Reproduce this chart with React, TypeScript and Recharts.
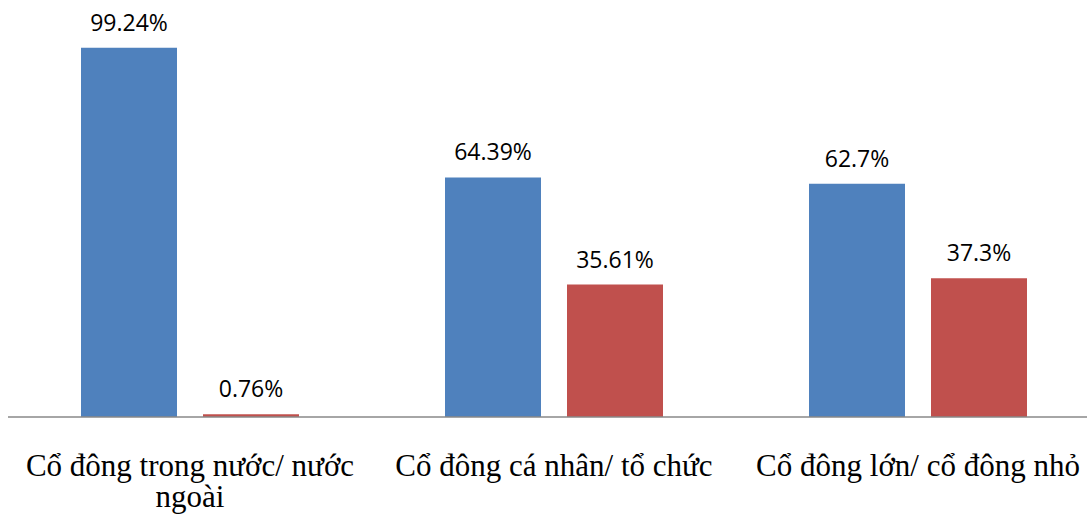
import { BarChart, Bar, XAxis, YAxis, LabelList } from 'recharts'

const categories = ['Cổ đông trong nước/ nước ngoài', 'Cổ đông cá nhân/ tổ chức', 'Cổ đông lớn/ cổ đông nhỏ']
const firstGroup = [99.24, 64.39, 62.7]
const secondGroup = [0.76, 35.61, 37.3]
const tickLines = [['Cổ đông trong nước/ nước', 'ngoài'], ['Cổ đông cá nhân/ tổ chức'], ['Cổ đông lớn/ cổ đông nhỏ']]

const data = categories.map((name, i) => ({
  name,
  first: firstGroup[i],
  second: secondGroup[i],
}))

function CategoryTick(props: any) {
  const { x, index } = props
  const lines = tickLines[index] || []
  return (
    <g>
      {lines.map((l, i) => (
        <text
          key={i}
          x={x}
          y={476 + i * 31}
          textAnchor="middle"
          fontFamily="'Liberation Serif', 'Times New Roman', serif"
          fontSize={31}
          fill="#000"
        >
          {l}
        </text>
      ))}
    </g>
  )
}

function ValueLabel(props: any) {
  const { x, y, width, value } = props
  return (
    <text
      x={x + width / 2}
      y={y - 17}
      textAnchor="middle"
      fontFamily="'Open Sans', sans-serif"
      fontSize={23}
      fill="#000"
    >
      {value}%
    </text>
  )
}

export default function App() {
  return (
    <div style={{ position: 'absolute', left: 0, top: 0, width: 1087, height: 518, overflow: 'hidden', background: '#fff' }}>
      <BarChart
        width={1100}
        height={518}
        data={data}
        margin={{ top: 45, right: 0, bottom: 0, left: 8 }}
        barCategoryGap={73}
        barGap={26}
      >
        <YAxis hide domain={[0, 100]} />
        <XAxis
          dataKey="name"
          height={101}
          tickLine={false}
          stroke="#888888"
          strokeWidth={1.5}
          tick={<CategoryTick />}
          interval={0}
        />
        <Bar dataKey="first" fill="#4F81BD" isAnimationActive={false}>
          <LabelList dataKey="first" content={<ValueLabel />} />
        </Bar>
        <Bar dataKey="second" fill="#C0504D" isAnimationActive={false}>
          <LabelList dataKey="second" content={<ValueLabel />} />
        </Bar>
      </BarChart>
    </div>
  )
}
